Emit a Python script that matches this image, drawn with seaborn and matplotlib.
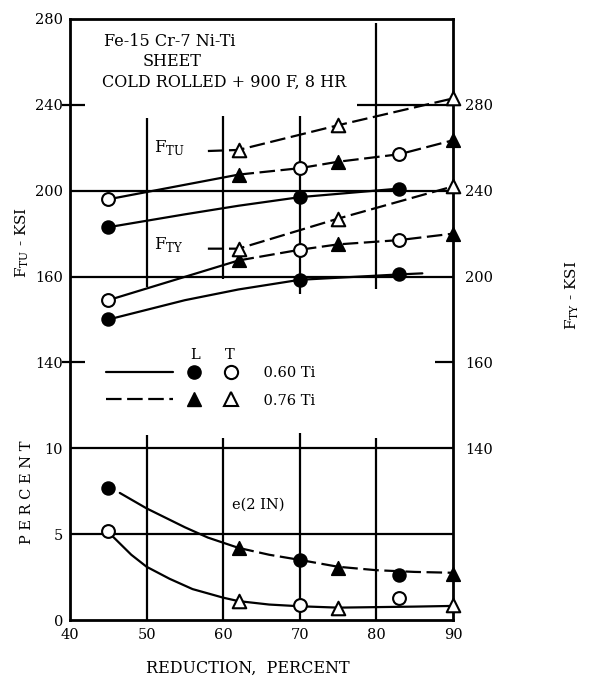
import matplotlib
matplotlib.use("Agg")
import matplotlib.pyplot as plt
import seaborn as sns
from matplotlib.lines import Line2D

# reduction, percent (points for 0.60 Ti and 0.76 Ti)
x_060 = [45, 70, 83]
x_076 = [62, 75, 90]

# tensile ultimate, ksi (left scale)
ftu_060_L = [183, 197, 201]
ftu_060_T = [196, 210.5, 217]
ftu_076_L = [207.5, 213.5, 223.5]
ftu_076_T = [219, 230.5, 243]

# tensile yield, ksi (right scale)
fty_060_L = [180, 198.5, 201]
fty_060_T = [189, 212.5, 217]
fty_076_L = [207.5, 215, 220]
fty_076_T = [213, 227, 242]

# elongation in 2 in, percent
e_060_L = [7.7, 3.5, 2.6]
e_060_T = [5.2, 0.9, 1.3]
e_076_L = [4.2, 3.0, 2.7]
e_076_T = [1.1, 0.7, 0.9]

# faired curves
ftu_mix_x = [45, 62, 70, 75, 83, 90]
ftu_mix_y = [196, 207.5, 210.5, 213.5, 217, 223.5]
ftu_tri_x = [58, 62, 75, 90]
ftu_tri_y = [218.5, 219, 230.5, 243]
ftu_dot_x = [45, 55, 62, 70, 83]
ftu_dot_y = [183, 189, 193, 197, 201]

fty_mix_x = [45, 62, 70, 75, 83, 90]
fty_mix_y = [189, 207.5, 212.5, 215, 217, 220]
fty_tri_x = [58, 62, 75, 90]
fty_tri_y = [213, 213, 227, 242]
fty_dot_x = [45, 55, 62, 70, 83, 86]
fty_dot_y = [180, 189, 194, 198.5, 201, 201.5]

e_up_x = [46.5, 50, 55, 58, 62]
e_up_y = [7.4, 6.5, 5.4, 4.8, 4.2]
e_up2_x = [62, 66, 70, 75, 80, 85, 90]
e_up2_y = [4.2, 3.8, 3.5, 3.1, 2.9, 2.8, 2.75]
e_lo_x = [45.5, 48, 50, 53, 56, 60, 62, 66, 70, 75, 80, 85, 90]
e_lo_y = [4.9, 3.8, 3.1, 2.4, 1.8, 1.3, 1.1, 0.9, 0.8, 0.72, 0.75, 0.78, 0.82]

left_ticks = [280, 240, 200, 160, 120, 80, 40, 0]
left_labels = ['280', '240', '200', '160', '140', '10', '5', '0']
right_ticks = [280, 240, 200, 160, 120]
right_labels = ['280', '240', '200', '160', '140']
x_ticks = [40, 50, 60, 70, 80, 90]

sns.set_style('white')
plt.rcParams['font.family'] = ['DejaVu Serif', 'DejaVu Sans']
plt.rcParams['mathtext.fontset'] = 'custom'
plt.rcParams['mathtext.rm'] = 'DejaVu Serif'
plt.rcParams['text.color'] = 'black'
plt.rcParams['xtick.color'] = 'black'
plt.rcParams['ytick.color'] = 'black'

fig = plt.figure(figsize=(5.91, 6.82), dpi=100)
ax = fig.add_axes([70 / 591, 1 - 620 / 682, 383 / 591, 601 / 682])
ax.set_xlim(40, 90)
ax.set_ylim(0, 280)
ax_fty = ax.twinx()
ax_fty.set_ylim(40, 320)
ax_e = ax.twinx()
ax_e.set_ylim(0, 35)
ax_e.set_axis_off()

LW = 1.6
DASH = (0, (7, 2.5))
k = dict(color='black', lw=LW, estimator=None, sort=False, legend=False)

# grid pieces
ax.hlines([200, 160, 80, 40], 40, 90, color='black', lw=LW)
ax.hlines(240, 77.5, 90, color='black', lw=LW)
ax.hlines(120, 87.6, 90, color='black', lw=LW)
ax.hlines([240, 120], 39.0, 42, color='black', lw=LW, clip_on=False)
ax.vlines([50, 60, 70, 80], [155, 159, 152, 154], [234, 235, 235, 278], color='black', lw=LW)
ax.vlines([50, 60, 70, 80], 0, [86, 85, 87, 85], color='black', lw=LW)

# faired curves
sns.lineplot(x=ftu_mix_x[:2], y=ftu_mix_y[:2], ax=ax, **k)
sns.lineplot(x=ftu_mix_x[1:], y=ftu_mix_y[1:], ax=ax, linestyle=DASH, **k)
sns.lineplot(x=ftu_tri_x, y=ftu_tri_y, ax=ax, linestyle=DASH, **k)
sns.lineplot(x=ftu_dot_x, y=ftu_dot_y, ax=ax, **k)

sns.lineplot(x=fty_mix_x[:2], y=fty_mix_y[:2], ax=ax_fty, **k)
sns.lineplot(x=fty_mix_x[1:], y=fty_mix_y[1:], ax=ax_fty, linestyle=DASH, **k)
sns.lineplot(x=fty_tri_x, y=fty_tri_y, ax=ax_fty, linestyle=DASH, **k)
sns.lineplot(x=fty_dot_x[:-1], y=fty_dot_y[:-1], ax=ax_fty, **k)
sns.lineplot(x=fty_dot_x[-2:], y=fty_dot_y[-2:], ax=ax_fty, **k)

sns.lineplot(x=e_up_x, y=e_up_y, ax=ax_e, **k)
sns.lineplot(x=e_up2_x, y=e_up2_y, ax=ax_e, linestyle=DASH, **k)
sns.lineplot(x=e_lo_x, y=e_lo_y, ax=ax_e, **k)

# data points
filled = dict(color='black', edgecolor='black', linewidth=1.2, zorder=5, legend=False, clip_on=False)
hollow = dict(color='white', edgecolor='black', linewidth=1.5, zorder=5, legend=False, clip_on=False)
for a, s060L, s060T, s076L, s076T in [
        (ax, ftu_060_L, ftu_060_T, ftu_076_L, ftu_076_T),
        (ax_fty, fty_060_L, fty_060_T, fty_076_L, fty_076_T),
        (ax_e, e_060_L, e_060_T, e_076_L, e_076_T)]:
    sns.scatterplot(x=x_060, y=s060L, ax=a, marker='o', s=85, **filled)
    sns.scatterplot(x=x_060, y=s060T, ax=a, marker='o', s=85, **hollow)
    sns.scatterplot(x=x_076, y=s076L, ax=a, marker='^', s=95, **filled)
    sns.scatterplot(x=x_076, y=s076T, ax=a, marker='^', s=95, **hollow)

# axes and ticks
ax.set_xticks(x_ticks)
ax.set_xticklabels([str(v) for v in x_ticks], fontsize=10.5)
ax.set_yticks(left_ticks)
ax.set_yticklabels(left_labels, fontsize=10.5)
ax.tick_params(length=0, pad=5)
ax.tick_params(axis='x', pad=6)
ax_fty.set_yticks(right_ticks)
ax_fty.set_yticklabels(right_labels, fontsize=10.5)
ax_fty.tick_params(length=0, pad=9)
for sp in ax.spines.values():
    sp.set_color('black')
    sp.set_linewidth(2)
for sp in ax_fty.spines.values():
    sp.set_visible(False)
ax.set_xlabel('')
ax.set_ylabel('')
ax_fty.set_ylabel('')

ax.text(-0.125, 0.629, r'F$_{\mathrm{TU}}$ - KSI', rotation=90, transform=ax.transAxes,
        ha='center', va='center', fontsize=11)
ax.text(-0.112, 0.213, 'P E R C E N T', rotation=90, transform=ax.transAxes,
        ha='center', va='center', fontsize=10.5)
ax.text(1.311, 0.54, r'F$_{\mathrm{TY}}$ - KSI', rotation=90, transform=ax.transAxes,
        ha='center', va='center', fontsize=11)
ax.text(0.465, -0.08, 'REDUCTION,  PERCENT', transform=ax.transAxes,
        ha='center', va='center', fontsize=11.5)

# annotations
ax.text(44.4, 269.5, 'Fe-15 Cr-7 Ni-Ti', fontsize=11.5, va='center')
ax.text(53.3, 260, 'SHEET', fontsize=11.5, va='center', ha='center')
ax.text(44.2, 250.7, 'COLD ROLLED + 900 F, 8 HR', fontsize=11.5, va='center')
ax.text(51, 220, r'F$_{\mathrm{TU}}$', fontsize=12, va='center')
ax.text(51, 175, r'F$_{\mathrm{TY}}$', fontsize=12, va='center')
ax_e.text(61.2, 6.7, 'e(2 IN)', fontsize=10.5, va='center')

# key
ax.text(0.326, 0.441, 'L', transform=ax.transAxes, ha='center', va='center', fontsize=10.5)
ax.text(0.418, 0.441, 'T', transform=ax.transAxes, ha='center', va='center', fontsize=10.5)
line_handles = [Line2D([], [], color='black', lw=LW),
                Line2D([], [], color='black', lw=LW, linestyle=DASH)]
leg1 = ax.legend(line_handles, ['', ''], loc='upper left', bbox_to_anchor=(0.095, 0.422),
                 frameon=False, handlelength=4.6, handletextpad=0, borderpad=0,
                 borderaxespad=0, labelspacing=0.9, fontsize=10.5)
ax.add_artist(leg1)
mk = dict(color='black', linestyle='none', markersize=9.5)
mark_handles = [Line2D([], [], marker='o', markerfacecolor='black', **mk),
                Line2D([], [], marker='^', markerfacecolor='black', **mk),
                Line2D([], [], marker='o', markerfacecolor='white', markeredgewidth=1.5, **mk),
                Line2D([], [], marker='^', markerfacecolor='white', markeredgewidth=1.5, **mk)]
ax.legend(mark_handles, ['', '', '    0.60 Ti', '    0.76 Ti'], ncol=2, loc='upper left',
          bbox_to_anchor=(0.305, 0.422), frameon=False, handlelength=1, handletextpad=0.5,
          columnspacing=1.0, borderpad=0, borderaxespad=0, labelspacing=0.9, fontsize=10.5)

fig.savefig('out.png', dpi=100)
